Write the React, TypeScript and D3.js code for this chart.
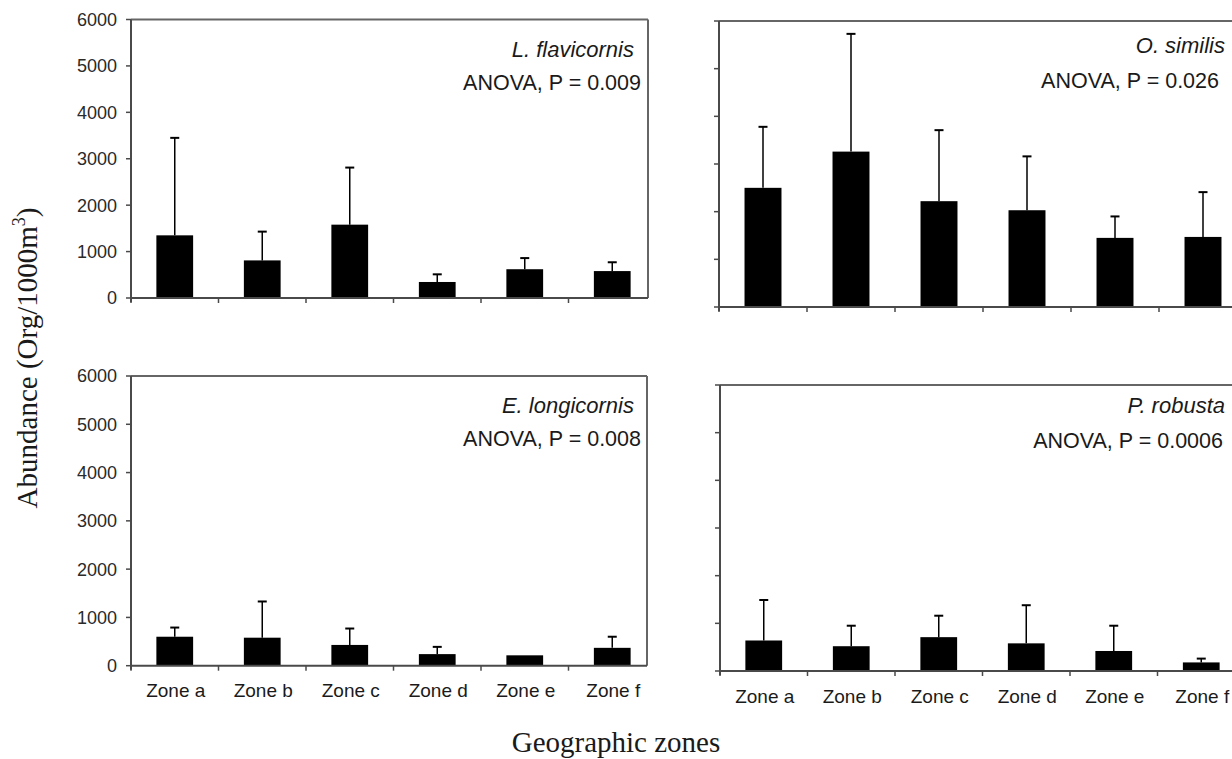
import React from "react";
import * as d3 from "d3";

// Data (mean abundance and upper error, Org/1000m3)
const zones = ["Zone a", "Zone b", "Zone c", "Zone d", "Zone e", "Zone f"];

const flavicornisMean = [1350, 810, 1580, 345, 620, 580];
const flavicornisErr = [2100, 620, 1230, 165, 240, 190];

const similisMean = [2500, 3260, 2220, 2030, 1450, 1470];
const similisErr = [1280, 2470, 1490, 1130, 450, 940];

const longicornisMean = [600, 580, 430, 240, 215, 370];
const longicornisErr = [190, 750, 340, 150, 0, 230];

const robustaMean = [640, 520, 710, 580, 420, 180];
const robustaErr = [850, 430, 450, 800, 530, 80];

const species = ["L. flavicornis", "O. similis", "E. longicornis", "P. robusta"];
const anova = ["ANOVA, P = 0.009", "ANOVA, P = 0.026", "ANOVA, P = 0.008", "ANOVA, P = 0.0006"];

const W = 1232;
const H = 759;
const sans = "Arial, 'Liberation Sans', sans-serif";
const serif = "'Times New Roman', 'Liberation Serif', serif";

// panel layout (pixels)
const panels = [
  { mean: flavicornisMean, err: flavicornisErr, left: 131, right: 648, xEnd: 656, top: 19.5, bottom: 298, yLabels: true, xLabels: false, spX: 634, spY: 57, anX: 641, anY: 90 },
  { mean: similisMean, err: similisErr, left: 719, right: 1260, xEnd: 1247, top: 21, bottom: 307, yLabels: false, xLabels: false, spX: 1225, spY: 53, anX: 1219, anY: 88 },
  { mean: longicornisMean, err: longicornisErr, left: 131, right: 647, xEnd: 656, top: 376, bottom: 665.7, yLabels: true, xLabels: true, labY: 697, spX: 634, spY: 413, anX: 641, anY: 446 },
  { mean: robustaMean, err: robustaErr, left: 720, right: 1260, xEnd: 1245, top: 385, bottom: 671, yLabels: false, xLabels: true, labY: 703, spX: 1225, spY: 413, anX: 1223, anY: 448 },
];

const Panel = ({ cfg, idx }: { cfg: any; idx: number }) => {
  const x = d3.scaleBand().domain(zones).range([cfg.left, cfg.xEnd]).padding(0);
  const y = d3.scaleLinear().domain([0, 6000]).range([cfg.bottom, cfg.top]);
  const bw = x.bandwidth() * 0.42;
  const axisColor = "#4a4a4a";

  return (
    <g>
      {/* bars */}
      {zones.map((z, i) => {
        const cx = (x(z) as number) + x.bandwidth() / 2;
        return (
          <g key={z}>
            <rect x={cx - bw / 2} y={y(cfg.mean[i])} width={bw} height={y(0) - y(cfg.mean[i])} fill="#000" />
            {cfg.err[i] > 0 && (
              <>
                <line x1={cx} x2={cx} y1={y(cfg.mean[i])} y2={y(cfg.mean[i] + cfg.err[i])} stroke="#000" strokeWidth={1.5} />
                <line x1={cx - 4.5} x2={cx + 4.5} y1={y(cfg.mean[i] + cfg.err[i])} y2={y(cfg.mean[i] + cfg.err[i])} stroke="#000" strokeWidth={2} />
              </>
            )}
          </g>
        );
      })}

      {/* frame */}
      <line x1={cfg.left} x2={cfg.right} y1={cfg.top} y2={cfg.top} stroke="#666" strokeWidth={2} />
      <line x1={cfg.right} x2={cfg.right} y1={cfg.top} y2={cfg.bottom} stroke="#666" strokeWidth={2} />
      <line x1={cfg.left} x2={cfg.left} y1={cfg.top} y2={cfg.bottom + 4} stroke={axisColor} strokeWidth={2} />
      <line x1={cfg.left} x2={cfg.right} y1={cfg.bottom} y2={cfg.bottom} stroke={axisColor} strokeWidth={2} />

      {/* y ticks */}
      {y.ticks(6).map((t) => (
        <g key={t}>
          <line x1={cfg.left - 5} x2={cfg.left} y1={y(t)} y2={y(t)} stroke={axisColor} strokeWidth={1.5} />
          {cfg.yLabels && (
            <text x={cfg.left - 14} y={y(t)} dy="0.36em" textAnchor="end" fontFamily={sans} fontSize={18} fill="#2a2a2a">
              {t}
            </text>
          )}
        </g>
      ))}

      {/* x ticks at category boundaries */}
      {zones.map((z) => (
        <line key={z} x1={x(z)} x2={x(z)} y1={cfg.bottom} y2={cfg.bottom + 5} stroke={axisColor} strokeWidth={1.5} />
      ))}
      {cfg.xLabels &&
        zones.map((z) => (
          <text key={z} x={(x(z) as number) + x.bandwidth() / 2 + 1} y={cfg.labY} textAnchor="middle" fontFamily={sans} fontSize={19} fill="#1a1a1a">
            {z}
          </text>
        ))}

      {/* annotations */}
      <text x={cfg.spX} y={cfg.spY} textAnchor="end" fontFamily={sans} fontStyle="italic" fontSize={22} fill="#1a1a1a">
        {species[idx]}
      </text>
      <text x={cfg.anX} y={cfg.anY} textAnchor="end" fontFamily={sans} fontSize={21.5} fill="#1a1a1a">
        {anova[idx]}
      </text>
    </g>
  );
};

export default function App() {
  return (
    <>
      <style>{`body{margin:0;}`}</style>
      <svg width={W} height={H} viewBox={`0 0 ${W} ${H}`} style={{ display: "block", background: "#fff" }}>
        <rect x={0} y={0} width={W} height={H} fill="#fff" />
        {panels.map((p, i) => (
          <Panel key={i} cfg={p} idx={i} />
        ))}
        <text transform="translate(37,358) rotate(-90)" textAnchor="middle" fontFamily={serif} fontSize={29} fill="#1a1a1a">
          Abundance (Org/1000m<tspan dy={-12} fontSize={18}>3</tspan>
          <tspan dy={12}>)</tspan>
        </text>
        <text x={616} y={752} textAnchor="middle" fontFamily={serif} fontSize={29} fill="#1a1a1a">
          Geographic zones
        </text>
      </svg>
    </>
  );
}
